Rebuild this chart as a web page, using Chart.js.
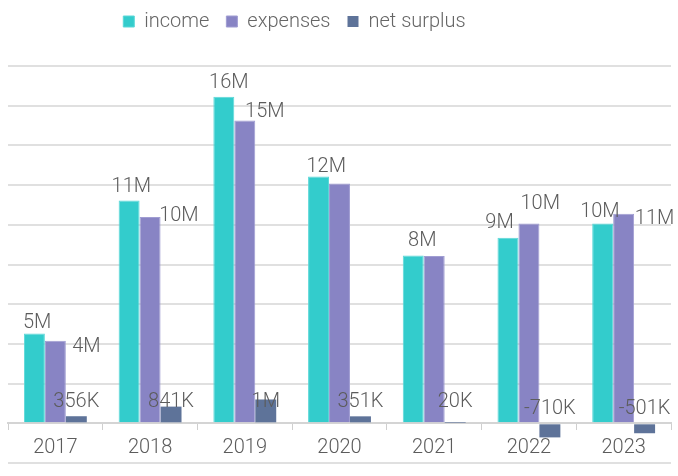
<!DOCTYPE html>
<html>
<head>
<meta charset="utf-8">
<script src="https://cdn.jsdelivr.net/npm/chart.js@4.4.1/dist/chart.umd.min.js"></script>
<style>
  html, body { margin: 0; padding: 0; background: #fff; }
  #wrap { position: relative; width: 678px; height: 476px; }
</style>
</head>
<body>
<div id="wrap"><canvas id="grafica"></canvas></div>
<script>
// years and series
var years = ['2017', '2018', '2019', '2020', '2021', '2022', '2023'];
var income = [4.52e6, 11.23e6, 16.45e6, 12.43e6, 8.45e6, 9.35e6, 10.06e6];
var expenses = [4.164e6, 10.389e6, 15.25e6, 12.079e6, 8.43e6, 10.06e6, 10.561e6];
var netSurplus = [356e3, 841e3, 1.2e6, 351e3, 20e3, -710e3, -501e3];

// y range, ticks hidden (only the grid lines show)
var yMin = -2e6, yMax = 18e6, yStep = 2e6;

// where each value label sits, [dx, dy] from the bar top; null = not drawn
var incomeLabelShift = [[2.7, -10.5], [2.2, -13.2], [5, -13.4], [7.7, -9.5], [9, -14.6], [-8.4, -14.3], [-2.8, -12.1]];
var expensesLabelShift = [[31, 6.3], [28.8, -0.9], [20, -8.2], null, null, [11.3, -19.6], [30.9, 5.5]];

var textColor = '#5c5c5c';
var gridColor = '#e0e0e0';
var fontFamily = 'Roboto, "Noto Sans", sans-serif';

Chart.defaults.font.family = fontFamily;
Chart.defaults.font.weight = '300';
Chart.defaults.color = textColor;

function shortNum(v) {
  if (Math.abs(v) >= 1e6) return Math.round(v / 1e6) + 'M';
  return Math.round(v / 1e3) + 'K';
}

// value labels over the bars
var barLabels = {
  id: 'barLabels',
  afterDatasetsDraw: function(chart) {
    var ctx = chart.ctx;
    var zero = chart.scales.y.getPixelForValue(0);
    ctx.save();
    ctx.font = '300 20px ' + fontFamily;
    ctx.fillStyle = textColor;
    ctx.textAlign = 'center';
    ctx.textBaseline = 'middle';
    chart.data.datasets.forEach(function(ds, i) {
      var meta = chart.getDatasetMeta(i);
      meta.data.forEach(function(bar, j) {
        var v = ds.data[j];
        var x, y;
        if (ds.labelShift) {
          var s = ds.labelShift[j];
          if (!s) return;
          x = bar.x + s[0];
          y = Math.min(bar.y, bar.base) + s[1];
        } else {
          // net surplus labels sit just above the zero line
          x = bar.x;
          y = zero - (v < 0 ? 14.7 : 21.3);
        }
        ctx.fillText(shortNum(v), x, y);
      });
    });
    ctx.restore();
  }
};

// legend: taller box (gap before the plot) and moved a bit to the left
var legendPos = {
  id: 'legendPos',
  beforeLayout: function(chart) {
    var legend = chart.legend;
    if (!legend || legend._altoFijo) return;
    var fit = legend.fit;
    legend.fit = function() {
      fit.call(this);
      this.height = 66;
    };
    legend._altoFijo = true;
  },
  afterLayout: function(chart) {
    var legend = chart.legend;
    legend.left -= 45;
    legend.right -= 45;
    legend.top -= 5.5;
  }
};

new Chart(document.getElementById('grafica'), {
  type: 'bar',
  data: {
    labels: years,
    datasets: [{
      label: 'income',
      data: income,
      backgroundColor: '#33cccc',
      borderColor: '#5cd8d8',
      borderWidth: 1,
      labelShift: incomeLabelShift
    }, {
      label: 'expenses',
      data: expenses,
      backgroundColor: '#8884c4',
      borderColor: '#a09dd2',
      borderWidth: 1,
      labelShift: expensesLabelShift
    }, {
      label: 'net surplus',
      data: netSurplus,
      backgroundColor: '#5e7399',
      borderWidth: 0
    }]
  },
  options: {
    responsive: true,
    maintainAspectRatio: false,
    animation: false,
    layout: { padding: { left: 8, right: 7, top: 0, bottom: 13 } },
    datasets: {
      bar: { categoryPercentage: 0.664, barPercentage: 1 }
    },
    plugins: {
      legend: {
        position: 'top',
        labels: {
          boxWidth: 11,
          boxHeight: 11,
          padding: 17,
          color: '#666',
          font: { size: 20, weight: '300' }
        }
      },
      tooltip: { enabled: false }
    },
    scales: {
      x: {
        position: { y: 0 },
        afterFit: function(scale) { scale.height = 0; },
        grid: {
          drawOnChartArea: false,
          drawTicks: true,
          tickLength: 6,
          color: '#cfcfcf'
        },
        border: { color: '#d4d4d4', width: 2 },
        ticks: {
          padding: 7,
          color: textColor,
          font: { size: 20, weight: '300' }
        }
      },
      y: {
        min: yMin,
        max: yMax,
        ticks: { display: false, stepSize: yStep },
        grid: { color: gridColor, lineWidth: 2, drawTicks: false },
        border: { display: false }
      }
    }
  },
  plugins: [barLabels, legendPos]
});
</script>
</body>
</html>
